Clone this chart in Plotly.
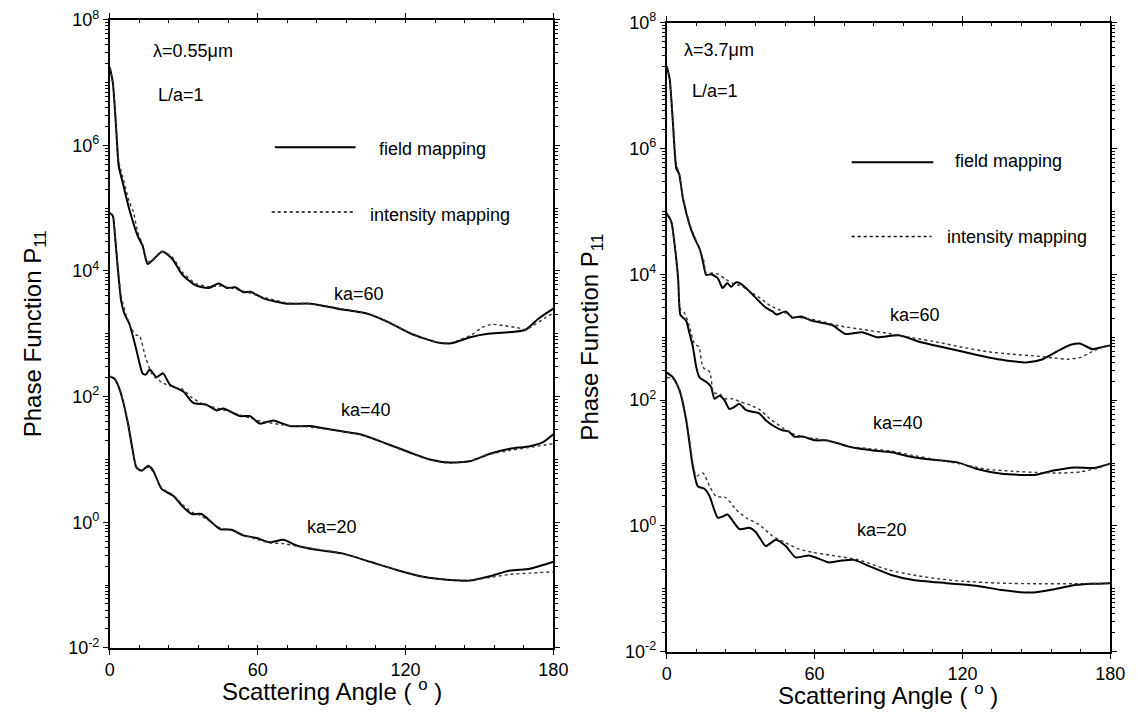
import numpy as np
import plotly.graph_objects as go

# ---------------- data (angles in degrees, P11 as log10 values) ----------------
# Left panel: lambda = 0.55 um
L_KA60_FIELD_ANG = [0, 1.2, 2.5, 3.6, 5.2, 7.9, 11.3, 13.3, 15.3, 17.3, 21.3, 25.4, 29.4, 34.8, 40.1, 44.2, 47.5,
                    50.9, 54.3, 57, 62.5, 72, 81.5, 92.4, 104.6, 112.8, 122.3, 133.1, 138.6, 146.7, 153.5, 160.3,
                    168.5, 173.9, 180]
L_KA60_FIELD_LOG = [7.24, 7.00, 6.30, 5.67, 5.41, 4.98, 4.56, 4.40, 4.11, 4.17, 4.31, 4.19, 3.94, 3.77, 3.73, 3.80,
                    3.73, 3.74, 3.66, 3.67, 3.56, 3.48, 3.48, 3.40, 3.32, 3.19, 3.00, 2.86, 2.85, 2.95, 3.00, 3.02,
                    3.06, 3.24, 3.40]
L_KA60_INT_ANG = [0, 1.2, 2.5, 3.6, 5.2, 7.9, 9.5, 11.3, 13.3, 15.3, 17.3, 21.3, 25.4, 29.4, 34.8, 40.1, 45, 50, 55,
                  62.5, 72, 81.5, 92.4, 104.6, 112.8, 122.3, 133.1, 138.6, 146.7, 151, 155, 160, 165, 169, 173,
                  176.5, 180]
L_KA60_INT_LOG = [7.24, 7.00, 6.35, 5.75, 5.50, 5.10, 4.95, 4.62, 4.42, 4.15, 4.18, 4.31, 4.22, 3.98, 3.80, 3.75,
                  3.76, 3.72, 3.67, 3.58, 3.49, 3.48, 3.41, 3.32, 3.19, 3.00, 2.86, 2.86, 2.98, 3.10, 3.15, 3.13,
                  3.10, 3.07, 3.16, 3.25, 3.33]

L_KA40_FIELD_ANG = [0, 1.2, 2.0, 3.2, 4.6, 5.9, 7.9, 10.6, 13.3, 14.6, 16.2, 18.9, 21.6, 24.4, 29.8, 33.8, 39.2,
                    43.3, 46, 52.8, 56.8, 60.9, 66.3, 73.1, 81.2, 92, 101.5, 112.3, 121.8, 129.9, 138, 146.1,
                    154.2, 162.4, 170.5, 176, 180]
L_KA40_FIELD_LOG = [4.92, 4.88, 4.60, 4.05, 3.52, 3.32, 3.16, 2.77, 2.37, 2.35, 2.43, 2.31, 2.37, 2.19, 2.08, 1.90,
                    1.87, 1.78, 1.81, 1.69, 1.69, 1.57, 1.62, 1.53, 1.53, 1.46, 1.40, 1.25, 1.11, 1.00, 0.95, 0.97,
                    1.09, 1.17, 1.21, 1.28, 1.40]
L_KA40_INT_ANG = [0, 1.2, 2.0, 3.2, 4.6, 6.6, 8.5, 10.6, 12, 14.6, 17.3, 21.3, 26, 29.4, 33.4, 38, 45, 52, 60, 70,
                  80, 92, 101.5, 112.3, 121.8, 130, 138, 146, 154, 162, 170, 180]
L_KA40_INT_LOG = [4.92, 4.88, 4.62, 4.10, 3.60, 3.30, 3.10, 2.98, 2.97, 2.61, 2.35, 2.22, 2.15, 2.12, 1.98, 1.88,
                  1.80, 1.72, 1.62, 1.55, 1.52, 1.46, 1.40, 1.25, 1.10, 0.99, 0.94, 0.98, 1.08, 1.14, 1.19, 1.25]

L_KA20_FIELD_ANG = [0, 2, 4.1, 5.5, 7.4, 9, 10.8, 12.9, 15.6, 17.6, 21, 25.7, 29.8, 33.2, 37.2, 44.7, 49.4, 54.1,
                    59.5, 65, 70.4, 75.8, 83.9, 94.7, 105.6, 116.4, 127.2, 138, 146.2, 154.3, 162.4, 170.5, 180]
L_KA20_FIELD_LOG = [2.32, 2.28, 2.10, 1.90, 1.56, 1.20, 0.87, 0.82, 0.90, 0.82, 0.53, 0.42, 0.24, 0.13, 0.13, -0.11,
                    -0.12, -0.21, -0.25, -0.32, -0.28, -0.37, -0.44, -0.50, -0.63, -0.76, -0.87, -0.92, -0.93,
                    -0.86, -0.77, -0.74, -0.63]
L_KA20_INT_ANG = [0, 2, 4.1, 5.5, 7.4, 9, 10.8, 12.9, 15.6, 17.6, 21, 25.7, 29.8, 33.2, 37.2, 44.7, 49.4, 54.1,
                  59.5, 65, 70.4, 75.8, 83.9, 94.7, 105.6, 116.4, 127.2, 138, 146.2, 154.3, 162.4, 170.5, 180]
L_KA20_INT_LOG = [2.32, 2.28, 2.10, 1.90, 1.58, 1.22, 0.88, 0.83, 0.88, 0.80, 0.55, 0.43, 0.27, 0.16, 0.10, -0.09,
                  -0.13, -0.20, -0.27, -0.33, -0.34, -0.38, -0.43, -0.50, -0.63, -0.76, -0.87, -0.92, -0.92,
                  -0.88, -0.83, -0.81, -0.79]

# Right panel: lambda = 3.7 um
R_KA60_FIELD_ANG = [0, 1.2, 2.5, 3.9, 5, 6.6, 9.3, 11.3, 13.3, 14.7, 16, 18, 20.7, 22.7, 24.5, 26.1, 28, 30, 33.5,
                    37.5, 40.2, 42.9, 44.5, 48.3, 51, 54.6, 58.3, 63, 67.3, 72.6, 79.3, 85.3, 94.2, 103.2, 112.2,
                    121.2, 130.2, 137.6, 146.6, 152.6, 160.1, 164, 167.6, 172.8, 176.5, 180]
R_KA60_FIELD_LOG = [7.31, 7.10, 6.41, 5.68, 5.60, 5.20, 4.78, 4.57, 4.41, 4.20, 3.99, 4.00, 3.94, 3.78, 3.86, 3.80,
                    3.87, 3.85, 3.73, 3.57, 3.47, 3.41, 3.36, 3.41, 3.31, 3.33, 3.27, 3.23, 3.19, 3.05, 3.08, 3.00,
                    3.03, 2.92, 2.84, 2.76, 2.68, 2.63, 2.60, 2.65, 2.81, 2.88, 2.90, 2.81, 2.84, 2.87]
R_KA60_INT_ANG = [0, 1.2, 2.5, 3.9, 5, 6.6, 9.3, 11.3, 13.3, 15, 16, 18, 21, 24, 27, 30, 34, 38, 42, 46, 51, 56, 62,
                  70, 80, 90, 100, 110, 120, 130, 140, 150, 157, 163, 168, 172, 176, 180]
R_KA60_INT_LOG = [7.31, 7.10, 6.45, 5.75, 5.60, 5.22, 4.80, 4.60, 4.40, 4.22, 4.02, 4.02, 4.00, 3.92, 3.85, 3.82,
                  3.72, 3.62, 3.50, 3.43, 3.33, 3.30, 3.26, 3.18, 3.12, 3.06, 2.99, 2.92, 2.84, 2.77, 2.73, 2.70,
                  2.67, 2.65, 2.68, 2.76, 2.83, 2.87]

R_KA40_FIELD_ANG = [0, 1.9, 3.2, 4.6, 5.5, 6.6, 7.9, 9.3, 10.6, 12, 13.3, 16, 18, 19.4, 21.4, 23.4, 25.4, 27.4, 29.5,
                    32.2, 37.5, 40.2, 42.9, 46.9, 49.6, 51.7, 55, 60.4, 64.4, 69.8, 73.9, 77.9, 83.7, 91.1, 100.1,
                    106.1, 118, 125.5, 136, 145, 149.4, 156.9, 165.8, 173.3, 180]
R_KA40_FIELD_LOG = [4.97, 4.83, 4.47, 3.94, 3.36, 3.31, 3.26, 3.05, 2.85, 2.52, 2.36, 2.29, 2.21, 2.02, 2.07, 2.00,
                    1.86, 1.89, 1.94, 1.84, 1.79, 1.68, 1.60, 1.52, 1.50, 1.42, 1.42, 1.36, 1.36, 1.31, 1.26, 1.23,
                    1.20, 1.17, 1.09, 1.06, 1.01, 0.91, 0.83, 0.81, 0.81, 0.88, 0.93, 0.92, 0.99]
R_KA40_INT_ANG = [0, 1.9, 3.2, 4.6, 5.5, 7, 9, 11.3, 13, 14.7, 17.4, 19, 21.4, 24, 27, 30, 34, 38, 42, 47, 52, 58,
                  65, 73, 84, 91, 100, 110, 120, 130, 140, 150, 160, 168, 175, 180]
R_KA40_INT_LOG = [4.97, 4.83, 4.47, 3.97, 3.45, 3.40, 3.20, 2.89, 2.85, 2.52, 2.45, 2.12, 2.10, 2.02, 2.02, 1.97,
                  1.92, 1.84, 1.70, 1.56, 1.45, 1.40, 1.36, 1.27, 1.22, 1.19, 1.12, 1.05, 0.98, 0.90, 0.87, 0.85,
                  0.84, 0.86, 0.92, 0.99]

R_KA20_FIELD_ANG = [0, 2.5, 5.2, 7.9, 10.6, 12.6, 15.3, 17.4, 20.7, 22.7, 24.7, 29.5, 33.5, 36.2, 40.2, 44.3, 48.3,
                    52.3, 57.7, 61.7, 65.8, 71.1, 76, 82.2, 91.1, 100.1, 113.5, 125.5, 136, 147.9, 155.4, 165.8,
                    173.3, 180]
R_KA20_FIELD_LOG = [2.44, 2.36, 2.15, 1.68, 0.94, 0.63, 0.59, 0.47, 0.13, 0.15, 0.18, -0.05, -0.03, -0.10, -0.32,
                    -0.22, -0.32, -0.50, -0.47, -0.52, -0.58, -0.55, -0.54, -0.64, -0.78, -0.86, -0.91, -0.95,
                    -1.02, -1.06, -1.02, -0.94, -0.92, -0.91]
R_KA20_INT_ANG = [0, 2.5, 5.2, 7.9, 10.6, 12, 14.7, 17.4, 20, 24, 28.1, 32.2, 37.5, 42.9, 48.3, 53.7, 59, 67.2,
                  77.8, 90, 100, 110, 120, 135, 150, 165, 180]
R_KA20_INT_LOG = [2.36, 2.34, 2.17, 1.72, 1.00, 0.79, 0.84, 0.63, 0.47, 0.45, 0.26, 0.13, 0.02, -0.16, -0.27,
                  -0.37, -0.42, -0.47, -0.54, -0.70, -0.78, -0.84, -0.88, -0.91, -0.92, -0.92, -0.91]

Y_TICK_EXP = [-2, 0, 2, 4, 6, 8]
X_TICKS = [0, 60, 120, 180]
X_TITLE = "Scattering Angle ( <sup>o</sup> )"
Y_TITLE = "Phase Function P<sub>11</sub>"

FONT = "Liberation Sans, Arial, Helvetica, sans-serif"

fig = go.Figure()

series = [
    ("x", "y", L_KA60_FIELD_ANG, L_KA60_FIELD_LOG, "field"),
    ("x", "y", L_KA60_INT_ANG, L_KA60_INT_LOG, "int"),
    ("x", "y", L_KA40_FIELD_ANG, L_KA40_FIELD_LOG, "field"),
    ("x", "y", L_KA40_INT_ANG, L_KA40_INT_LOG, "int"),
    ("x", "y", L_KA20_FIELD_ANG, L_KA20_FIELD_LOG, "field"),
    ("x", "y", L_KA20_INT_ANG, L_KA20_INT_LOG, "int"),
    ("x2", "y2", R_KA60_FIELD_ANG, R_KA60_FIELD_LOG, "field"),
    ("x2", "y2", R_KA60_INT_ANG, R_KA60_INT_LOG, "int"),
    ("x2", "y2", R_KA40_FIELD_ANG, R_KA40_FIELD_LOG, "field"),
    ("x2", "y2", R_KA40_INT_ANG, R_KA40_INT_LOG, "int"),
    ("x2", "y2", R_KA20_FIELD_ANG, R_KA20_FIELD_LOG, "field"),
    ("x2", "y2", R_KA20_INT_ANG, R_KA20_INT_LOG, "int"),
]
for xa, ya, ang, lg, kind in series:
    vals = np.power(10.0, np.array(lg))
    if kind == "field":
        line = dict(color="black", width=2.0, shape="spline", smoothing=0.6)
    else:
        line = dict(color="#333333", width=1.4, dash="dot", shape="spline", smoothing=0.6)
    fig.add_trace(go.Scatter(x=ang, y=vals, mode="lines", line=line, xaxis=xa, yaxis=ya,
                             showlegend=False, hoverinfo="skip"))

major_vals = [10.0 ** e for e in Y_TICK_EXP]
major_text = ["10<sup>%d</sup>" % e for e in Y_TICK_EXP]
minor_vals = [k * 10.0 ** e for e in range(-2, 8) for k in range(1, 10) if not (k == 1 and e in Y_TICK_EXP)]

def xaxis_cfg(domain, anchor):
    return dict(domain=domain, anchor=anchor, range=[0, 180], tickmode="array", tickvals=X_TICKS,
                ticks="outside", ticklen=5, tickwidth=1.2, tickcolor="black",
                minor=dict(dtick=12, ticks="inside", ticklen=3, tickcolor="black", tickwidth=1),
                showline=True, linecolor="black", linewidth=1.8, mirror="ticks",
                showgrid=False, zeroline=False, ticklabeloverflow="allow",
                tickfont=dict(family=FONT, size=18, color="black"))

def yaxis_cfg(domain, anchor):
    return dict(domain=domain, anchor=anchor, type="log", range=[-2, 8], tickmode="array",
                tickvals=major_vals, ticktext=major_text,
                ticks="outside", ticklen=5, tickwidth=1.2, tickcolor="black",
                minor=dict(tickmode="array", tickvals=minor_vals, ticks="outside", ticklen=3,
                           tickcolor="black", tickwidth=1),
                showline=True, linecolor="black", linewidth=1.8, mirror="ticks",
                showgrid=False, zeroline=False, ticklabeloverflow="allow",
                tickfont=dict(family=FONT, size=18, color="black"),
                title=dict(text=Y_TITLE, standoff=20,
                           font=dict(family=FONT, size=24, color="black")))

W, H = 1138, 715
fig.update_layout(
    width=W, height=H, margin=dict(l=0, r=0, t=0, b=0),
    paper_bgcolor="white", plot_bgcolor="white",
    xaxis=xaxis_cfg([0.0938, 0.4905], "y"),
    yaxis=yaxis_cfg([0.0825, 0.9888], "x"),
    xaxis2=xaxis_cfg([0.5919, 0.9886], "y2"),
    yaxis2=yaxis_cfg([0.0769, 0.9846], "x2"),
    showlegend=False,
)

# x-axis titles
for xr, yr in [("x domain", "y domain"), ("x2 domain", "y2 domain")]:
    fig.add_annotation(xref=xr, yref=yr, x=0.5, y=0, yanchor="top", xanchor="center", yshift=-25,
                       text=X_TITLE, showarrow=False, font=dict(family=FONT, size=24, color="black"))

ann_font = dict(family=FONT, size=18, color="black")
texts = [
    ("x domain", "y domain", 0.092, 0.951, "λ=0.55μm"),
    ("x domain", "y domain", 0.103, 0.881, "L/a=1"),
    ("x domain", "y domain", 0.603, 0.794, "field mapping"),
    ("x domain", "y domain", 0.583, 0.689, "intensity mapping"),
    ("x domain", "y domain", 0.50, 0.563, "ka=60"),
    ("x domain", "y domain", 0.516, 0.379, "ka=40"),
    ("x domain", "y domain", 0.44, 0.192, "ka=20"),
    ("x2 domain", "y2 domain", 0.034, 0.957, "λ=3.7μm"),
    ("x2 domain", "y2 domain", 0.052, 0.892, "L/a=1"),
    ("x2 domain", "y2 domain", 0.646, 0.780, "field mapping"),
    ("x2 domain", "y2 domain", 0.628, 0.660, "intensity mapping"),
    ("x2 domain", "y2 domain", 0.498, 0.536, "ka=60"),
    ("x2 domain", "y2 domain", 0.46, 0.364, "ka=40"),
    ("x2 domain", "y2 domain", 0.424, 0.193, "ka=20"),
]
for xr, yr, xx, yy, t in texts:
    fig.add_annotation(xref=xr, yref=yr, x=xx, y=yy, text=t, showarrow=False,
                       xanchor="left", yanchor="middle", font=ann_font)

# legend sample lines
legend_lines = [
    ("x domain", "y domain", 0.372, 0.554, 0.797, "solid", 2.0),
    ("x domain", "y domain", 0.365, 0.549, 0.694, "dot", 1.4),
    ("x2 domain", "y2 domain", 0.417, 0.601, 0.778, "solid", 2.0),
    ("x2 domain", "y2 domain", 0.417, 0.597, 0.660, "dot", 1.4),
]
for xr, yr, x0, x1, yy, dash, w in legend_lines:
    fig.add_shape(type="line", xref=xr, yref=yr, x0=x0, x1=x1, y0=yy, y1=yy,
                  line=dict(color="black", width=w, dash=dash))

fig.write_html("out.html")
